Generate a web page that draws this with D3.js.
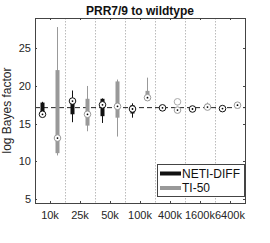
<!DOCTYPE html>
<html>
<head>
<meta charset="utf-8">
<script src="https://cdn.jsdelivr.net/npm/d3@7"></script>
<style>
  body { margin: 0; background: #fff; }
  text { font-family: "Liberation Sans", Arial, sans-serif; }
</style>
</head>
<body>
<div id="chart"></div>
<script>
const width = 270;
const height = 243;

// data
const groups = ['10k', '25k', '50k', '100k', '400k', '1600k', '6400k'];
const seriesNames = ['NETI-DIFF', 'TI-50'];
const yTicks = [5, 10, 15, 20, 25];
const reference = 17.13;

// [whiskerLow, q1, median, q3, whiskerHigh]
const netiDiff = [
    [16.2, 16.3, 16.25, 17.8, 17.9],
    [15.2, 16.25, 18.0, 18.1, 19.4],
    [15.1, 16.0, 17.5, 18.3, 18.35],
    [15.8, 16.35, 16.95, 17.45, 17.7],
    [16.95, 17.0, 17.1, 17.2, 17.25],
    [16.8, 16.85, 16.95, 17.05, 17.1],
    [16.85, 16.9, 17.0, 17.1, 17.15]
];
const ti50 = [
    [10.8, 11.1, 13.1, 22.1, 27.8],
    [14.0, 14.75, 16.25, 18.3, 20.0],
    [13.3, 15.8, 17.3, 20.6, 20.85],
    [18.1, 18.2, 18.45, 19.35, 21.1],
    [16.7, 16.72, 16.8, 16.9, 16.95],
    [16.8, 17.0, 17.2, 17.65, 17.8],
    [17.3, 17.35, 17.45, 17.55, 17.6]
];
const ti50Outliers = [[], [], [], [], [17.9], [], []];

const colors = { 'NETI-DIFF': '#111', 'TI-50': '#999' };

const margin = { left: 35, right: 25, top: 18, bottom: 40 };

const svg = d3.select('#chart')
    .append('svg')
        .attr('width', width)
        .attr('height', height);

const x = d3.scaleBand()
    .domain(groups)
    .range([margin.left, width - margin.right])
    .padding(0);

const xInner = d3.scaleBand()
    .domain(seriesNames)
    .range([0, x.bandwidth()]);

const y = d3.scaleLinear()
    .domain([4.5, 29])
    .range([height - margin.bottom, margin.top]);

const axisColor = '#444';

// group separators
svg.append('g')
    .selectAll('line')
    .data(groups.slice(1))
    .join('line')
        .attr('x1', d => x(d) + 0.5)
        .attr('x2', d => x(d) + 0.5)
        .attr('y1', y.range()[1])
        .attr('y2', y.range()[0])
        .attr('stroke', '#bbb')
        .attr('stroke-width', 1)
        .attr('stroke-dasharray', '1.5,1.5');

// reference line
svg.append('line')
    .attr('x1', x.range()[0])
    .attr('x2', x.range()[1])
    .attr('y1', y(reference))
    .attr('y2', y(reference))
    .attr('stroke', '#222')
    .attr('stroke-width', 1)
    .attr('stroke-dasharray', '5,3');

// boxes
const allSeries = [
    { name: 'NETI-DIFF', stats: netiDiff, outliers: groups.map(() => []) },
    { name: 'TI-50', stats: ti50, outliers: ti50Outliers }
];

allSeries.forEach(s => {
    const g = svg.append('g').attr('class', 'series');
    const cx = i => x(groups[i]) + xInner(s.name) + xInner.bandwidth() / 2;
    const col = colors[s.name];

    g.selectAll('line.whisker')
        .data(s.stats)
        .join('line')
            .attr('class', 'whisker')
            .attr('x1', (d, i) => cx(i))
            .attr('x2', (d, i) => cx(i))
            .attr('y1', d => y(d[0]))
            .attr('y2', d => y(d[4]))
            .attr('stroke', col)
            .attr('stroke-width', 1);

    g.selectAll('rect.box')
        .data(s.stats)
        .join('rect')
            .attr('class', 'box')
            .attr('x', (d, i) => cx(i) - 2)
            .attr('width', 4)
            .attr('y', d => y(d[3]))
            .attr('height', d => Math.max(1, y(d[1]) - y(d[3])))
            .attr('fill', col);

    g.selectAll('circle.med')
        .data(s.stats)
        .join('circle')
            .attr('class', 'med')
            .attr('cx', (d, i) => cx(i))
            .attr('cy', d => y(d[2]))
            .attr('r', 3.3)
            .attr('fill', '#fff')
            .attr('stroke', col)
            .attr('stroke-width', 1);

    g.selectAll('circle.dot')
        .data(s.stats)
        .join('circle')
            .attr('class', 'dot')
            .attr('cx', (d, i) => cx(i))
            .attr('cy', d => y(d[2]))
            .attr('r', 0.9)
            .attr('fill', '#000');

    s.outliers.forEach((arr, i) => {
        g.selectAll(null)
            .data(arr)
            .join('circle')
                .attr('cx', cx(i))
                .attr('cy', d => y(d))
                .attr('r', 3.3)
                .attr('fill', 'none')
                .attr('stroke', '#aaa')
                .attr('stroke-width', 1);
    });
});

// axes
const xLeft = x.range()[0], xRight = x.range()[1];
const yTop = y.range()[1], yBottom = y.range()[0];

svg.append('rect')
    .attr('x', xLeft + 0.5)
    .attr('y', yTop + 0.5)
    .attr('width', xRight - xLeft)
    .attr('height', yBottom - yTop)
    .attr('fill', 'none')
    .attr('stroke', axisColor)
    .attr('stroke-width', 1);

const xc = d => x(d) + x.bandwidth() / 2;

svg.append('g')
    .selectAll('path')
    .data(groups)
    .join('path')
        .attr('d', d => `M${xc(d) + 0.5},${yBottom}v-2M${xc(d) + 0.5},${yTop}v2`)
        .attr('stroke', axisColor);

svg.append('g')
    .selectAll('path')
    .data(yTicks)
    .join('path')
        .attr('d', d => `M${xLeft},${Math.round(y(d)) + 0.5}h2M${xRight},${Math.round(y(d)) + 0.5}h-2`)
        .attr('stroke', axisColor);

svg.append('g')
    .selectAll('text')
    .data(groups)
    .join('text')
        .attr('x', d => xc(d))
        .attr('y', yBottom + 16)
        .attr('text-anchor', 'middle')
        .attr('font-size', 11)
        .attr('fill', '#262626')
        .text(d => d);

svg.append('g')
    .selectAll('text')
    .data(yTicks)
    .join('text')
        .attr('x', xLeft - 4)
        .attr('y', d => y(d) + 4)
        .attr('text-anchor', 'end')
        .attr('font-size', 11)
        .attr('fill', '#262626')
        .text(d => d);

svg.append('text')
    .attr('transform', `translate(11,${(yTop + yBottom) / 2}) rotate(-90)`)
    .attr('text-anchor', 'middle')
    .attr('font-size', 12)
    .attr('fill', '#262626')
    .text('log Bayes factor');

svg.append('text')
    .attr('x', (xLeft + xRight) / 2)
    .attr('y', 15)
    .attr('text-anchor', 'middle')
    .attr('font-size', 12)
    .attr('font-weight', 'bold')
    .attr('fill', '#111')
    .text('PRR7/9 to wildtype');

// legend
const legend = svg.append('g').attr('transform', 'translate(157,164)');
legend.append('rect')
    .attr('x', 0.5).attr('y', 0.5)
    .attr('width', 87).attr('height', 32)
    .attr('fill', '#fff')
    .attr('stroke', axisColor);

seriesNames.forEach((name, i) => {
    const ly = 9.5 + i * 14.5;
    legend.append('line')
        .attr('x1', 3).attr('x2', 24)
        .attr('y1', ly).attr('y2', ly)
        .attr('stroke', colors[name])
        .attr('stroke-width', 4);
    legend.append('text')
        .attr('x', 25)
        .attr('y', ly + 4)
        .attr('font-size', 12)
        .attr('fill', '#111')
        .text(name);
});
</script>
</body>
</html>
